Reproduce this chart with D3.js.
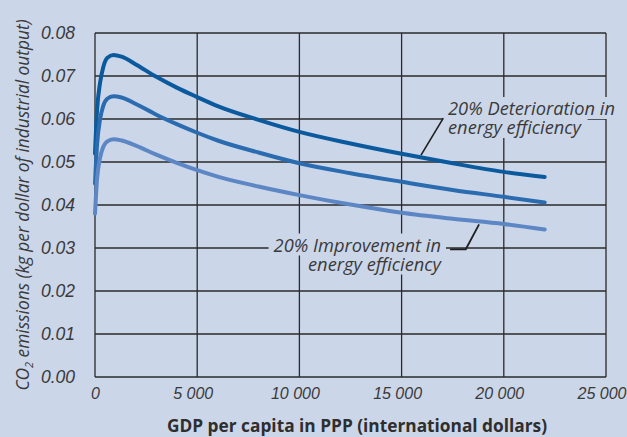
<!DOCTYPE html>
<html>
<head>
<meta charset="utf-8">
<script src="https://cdn.jsdelivr.net/npm/d3@7"></script>
<style>
  body { margin: 0; background: #ccd6e9; }
  svg { display: block; font-family: "Open Sans", "Noto Sans", sans-serif; }
</style>
</head>
<body>
<svg id="chart" width="627" height="437"></svg>
<script>
// GDP per capita (PPP) sample points
var gdp = [0, 100, 250, 400, 600, 900, 1300, 2000, 3000, 4000, 5000, 6000, 8000, 10000, 12500, 15000, 17500, 20000, 22000];
// CO2 kg per dollar of industrial output
var deterioration = [0.052, 0.062, 0.0685, 0.072, 0.0742, 0.0749, 0.0745, 0.0727, 0.0698, 0.0673, 0.0651, 0.0630, 0.0598, 0.0570, 0.0543, 0.0519, 0.0497, 0.0477, 0.0465];
var baseline = [0.045, 0.054, 0.060, 0.063, 0.0647, 0.0653, 0.0650, 0.0635, 0.0610, 0.0588, 0.0568, 0.0550, 0.0522, 0.0497, 0.0474, 0.0454, 0.0435, 0.0419, 0.0406];
var improvement = [0.038, 0.046, 0.051, 0.0535, 0.0548, 0.0553, 0.0550, 0.0538, 0.0517, 0.0498, 0.0481, 0.0466, 0.0443, 0.0423, 0.0401, 0.0382, 0.0368, 0.0356, 0.0343];
var xTicks = [0, 5000, 10000, 15000, 20000, 25000];
var yTicks = [0, 0.01, 0.02, 0.03, 0.04, 0.05, 0.06, 0.07, 0.08];
var seriesColors = ["#0b5a9e", "#2b6cb0", "#5c87c4"];

var svg = d3.select("#chart"),
  MARGINS = { top: 33, right: 21, bottom: 60, left: 95 },
  WIDTH = 627, HEIGHT = 437,
  xScale = d3.scaleLinear().domain([0, 25000]).range([MARGINS.left, WIDTH - MARGINS.right]),
  yScale = d3.scaleLinear().domain([0, 0.08]).range([HEIGHT - MARGINS.bottom, MARGINS.top]);

var ink = "#2a2a2a", textCol = "#3a3a3a";
var fmtX = function(d) { return d === 0 ? "0" : d3.format(",")(d).replace(",", " "); };

// grid
var grid = svg.append("g");
grid.selectAll("line.h").data(yTicks).enter().append("line")
  .attr("x1", xScale(0)).attr("x2", xScale(25000))
  .attr("y1", function(d) { return yScale(d); }).attr("y2", function(d) { return yScale(d); })
  .attr("stroke", ink).attr("stroke-width", 1.3);
grid.selectAll("line.v").data(xTicks).enter().append("line")
  .attr("y1", yScale(0)).attr("y2", yScale(0.08))
  .attr("x1", function(d) { return xScale(d); }).attr("x2", function(d) { return xScale(d); })
  .attr("stroke", ink).attr("stroke-width", 1.3);

// axes (labels only)
var yAxis = svg.append("g")
  .attr("transform", "translate(" + (MARGINS.left - 20) + ",0)")
  .call(d3.axisLeft(yScale).tickValues(yTicks).tickFormat(d3.format(".2f")).tickSize(0).tickPadding(0));
var xAxis = svg.append("g")
  .attr("transform", "translate(0," + (HEIGHT - MARGINS.bottom + 11) + ")")
  .call(d3.axisBottom(xScale).tickValues(xTicks).tickFormat(fmtX).tickSize(0).tickPadding(0));
[xAxis, yAxis].forEach(function(a) {
  a.select(".domain").remove();
  a.selectAll("text").attr("font-family", null)
    .attr("font-style", "italic").attr("fill", textCol);
});
yAxis.selectAll("text").attr("font-size", 17.5);
xAxis.selectAll("text").attr("font-size", 16)
  .attr("dx", function(d) { return d === 0 ? 0 : -4.5; });

svg.append("text")
  .attr("x", 357).attr("y", 432)
  .attr("text-anchor", "middle").attr("font-weight", "bold").attr("font-size", 17.3)
  .attr("fill", "#2e2e2e")
  .text("GDP per capita in PPP (international dollars)");

var yTitle = svg.append("text")
  .attr("transform", "translate(28.5,205) rotate(-90)")
  .attr("text-anchor", "middle").attr("font-style", "italic").attr("font-size", 17.3)
  .attr("fill", textCol);
yTitle.append("tspan").text("CO");
yTitle.append("tspan").attr("font-size", 11).attr("dy", 4).text("2");
yTitle.append("tspan").attr("dy", -4).text(" emissions (kg per dollar of industrial output)");

// annotations: text with background boxes that hide the grid
function label(lines, x, y, anchor) {
  var g = svg.append("g");
  lines.forEach(function(s, i) {
    var t = g.append("text")
      .attr("x", x).attr("y", y + i * 19)
      .attr("text-anchor", anchor).attr("font-style", "italic").attr("font-size", 18.3)
      .attr("fill", textCol).text(s);
    var b = t.node().getBBox();
    g.insert("rect", "text")
      .attr("x", b.x - 5).attr("y", b.y + 2).attr("width", b.width + 10).attr("height", b.height - 3)
      .attr("fill", "#ccd6e9");
  });
}
label(["20% Deterioration in", "energy efficiency"], 448, 115, "start");
label(["20% Improvement in", "energy efficiency"], 441, 251.5, "end");

// curves
var line = d3.line()
  .x(function(d) { return xScale(d[0]); })
  .y(function(d) { return yScale(d[1]); })
  .curve(d3.curveMonotoneX);
[deterioration, baseline, improvement].forEach(function(s, i) {
  svg.append("path")
    .datum(gdp.map(function(g, j) { return [g, s[j]]; }))
    .attr("fill", "none").attr("stroke", seriesColors[i])
    .attr("stroke-width", 4).attr("stroke-linecap", "round")
    .attr("d", line);
});

// leader lines
var leader = d3.line().x(function(d) { return xScale(d[0]); }).y(function(d) { return yScale(d[1]); });
svg.append("path").datum([[17040, 0.0602], [15950, 0.0516]])
  .attr("d", leader).attr("fill", "none").attr("stroke", "#1e1e1e").attr("stroke-width", 1.6);
svg.append("path").datum([[17370, 0.0297], [18140, 0.0297], [18790, 0.0355]])
  .attr("d", leader).attr("fill", "none").attr("stroke", "#1e1e1e").attr("stroke-width", 1.8);
</script>
</body>
</html>
